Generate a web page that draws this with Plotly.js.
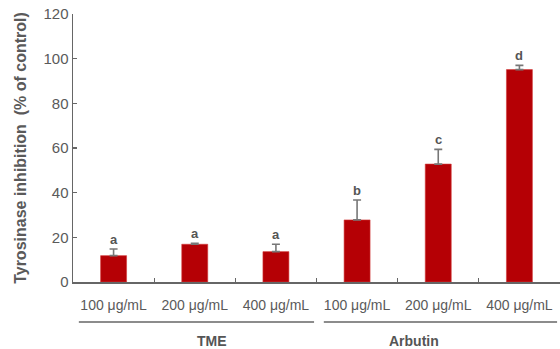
<!DOCTYPE html>
<html>
<head>
<meta charset="utf-8">
<script src="https://cdn.plot.ly/plotly-3.0.1.min.js"></script>
<style>html,body{margin:0;padding:0;background:#fff;}#chart{width:560px;height:349px;}</style>
</head>
<body>
<div id="chart"></div>
<script>
const categories = ["TME 100", "TME 200", "TME 400", "Arbutin 100", "Arbutin 200", "Arbutin 400"];
const tickLabels = ["100 μg/mL", "200 μg/mL", "400 μg/mL", "100 μg/mL", "200 μg/mL", "400 μg/mL"];
const values = [11.8, 16.9, 13.6, 27.8, 52.8, 95.1];
const errors = [3.0, 0.4, 3.3, 8.9, 6.6, 1.9];
const letters = ["a", "a", "a", "b", "c", "d"];
const groups = ["TME", "Arbutin"];

const gray = "#5a5a5a";
const trace = {
  type: "bar",
  x: categories,
  y: values,
  width: 0.32,
  marker: {color: "#b50005", line: {color: "#d23a3a", width: 0.6}},
  error_y: {type: "data", symmetric: false, array: errors, arrayminus: errors.map(() => 0),
            color: "#777", thickness: 1.6, width: 4},
  hoverinfo: "none"
};

const annotations = categories.map((c, i) => ({
  x: c, y: values[i] + errors[i], xref: "x", yref: "y",
  text: "<b>" + letters[i] + "</b>", showarrow: false, yanchor: "bottom", yshift: 0,
  font: {family: "Liberation Sans, Arial, sans-serif", size: 13, color: "#555"}
}));
annotations.push({x: 0.25, y: -0.22, xref: "paper", yref: "paper", text: "<b>" + groups[0] + "</b>",
  showarrow: false, yanchor: "middle", font: {family: "Liberation Sans, Arial, sans-serif", size: 14, color: "#555"}});
annotations.push({x: 0.755, y: -0.22, xref: "paper", yref: "paper", text: "<b>" + groups[1] + "</b>",
  showarrow: false, yanchor: "middle", font: {family: "Liberation Sans, Arial, sans-serif", size: 14, color: "#555"}});

const layout = {
  width: 560, height: 349,
  margin: {l: 73, r: 0, t: 14, b: 67},
  paper_bgcolor: "#fff", plot_bgcolor: "#fff",
  showlegend: false,
  font: {family: "Liberation Sans, Arial, sans-serif", color: gray},
  xaxis: {
    type: "category", tickvals: categories, ticktext: tickLabels, tickson: "boundaries",
    ticks: "inside", ticklen: 4, tickcolor: "#666", tickwidth: 1.2, ticklabelstandoff: 10,
    showline: true, linecolor: "#666", linewidth: 1.5, showgrid: false, zeroline: false,
    range: [-0.5, 5.5], tickfont: {size: 14, color: gray}, fixedrange: true
  },
  yaxis: {
    range: [0, 120], dtick: 20, ticks: "inside", ticklen: 4, tickcolor: "#666", tickwidth: 1.2,
    showline: true, linecolor: "#666", linewidth: 1.5, showgrid: false, zeroline: false,
    tickfont: {size: 15, color: gray},
    title: {text: "<b>Tyrosinase inhibition\u00a0 (% of control)</b>", font: {size: 16, color: gray}, standoff: 13}
  },
  shapes: [
    {type: "line", xref: "paper", yref: "paper", x0: 0.012, x1: 0.495, y0: -0.149, y1: -0.149, line: {color: "#666", width: 1.5}},
    {type: "line", xref: "paper", yref: "paper", x0: 0.515, x1: 0.994, y0: -0.149, y1: -0.149, line: {color: "#666", width: 1.5}}
  ],
  annotations: annotations
};

Plotly.newPlot("chart", [trace], layout, {displayModeBar: false, staticPlot: true});
</script>
</body>
</html>
